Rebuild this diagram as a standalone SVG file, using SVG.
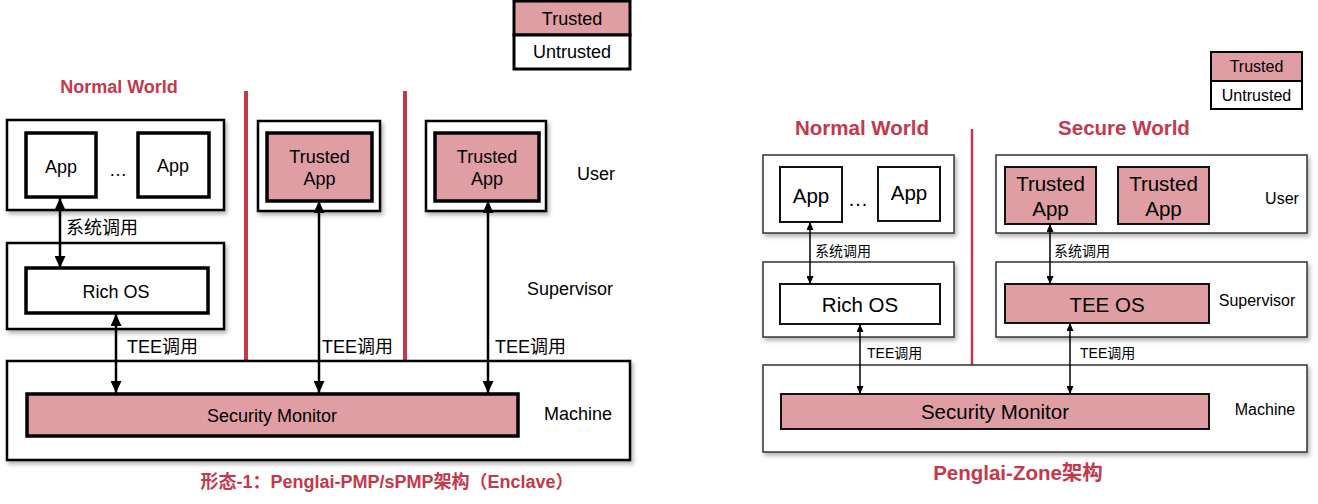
<svg xmlns="http://www.w3.org/2000/svg" width="1318" height="504" viewBox="0 0 1318 504">
<style>
text{font-family:"Liberation Sans",Arial,"Noto Sans CJK SC",sans-serif;fill:#000}
.l{font-size:18px}
.r{font-size:20.5px}
.s{font-size:16px}
.xs{font-size:14px}
.m{text-anchor:middle}
.red{fill:#C3394B;font-weight:bold}
.ob{fill:#fff;stroke:#000;stroke-width:2.5}
.ib{fill:#fff;stroke:#000;stroke-width:3.5}
.ip{fill:#DF9DA4;stroke:#000;stroke-width:3.5}
.rob{fill:#fff;stroke:#333;stroke-width:1.5}
.rib{fill:#fff;stroke:#111;stroke-width:2}
.rip{fill:#DF9DA4;stroke:#111;stroke-width:2}
.sep{stroke:#C3394B}
.ca{stroke:#000;stroke-width:2.5;fill:none}
.cr{stroke:#000;stroke-width:1.5;fill:none}
</style>
<defs>
<filter id="sh" x="-10%" y="-10%" width="130%" height="130%">
<feDropShadow dx="2" dy="3" stdDeviation="2" flood-color="#000" flood-opacity="0.3"/>
</filter>
<marker id="ah" markerUnits="userSpaceOnUse" markerWidth="12" markerHeight="11" refX="12" refY="5.5" orient="auto-start-reverse">
<path d="M0,0 L12,5.5 L0,11 z" fill="#000"/>
</marker>
<marker id="ahs" markerUnits="userSpaceOnUse" markerWidth="8" markerHeight="7" refX="8" refY="3.5" orient="auto-start-reverse">
<path d="M0,0 L8,3.5 L0,7 z" fill="#000"/>
</marker>
</defs>
<rect width="1318" height="504" fill="#fff"/>

<!-- ============ LEFT DIAGRAM ============ -->
<g id="legend-left">
<rect x="514" y="1" width="116" height="34" fill="#DF9DA4" stroke="#000" stroke-width="3"/>
<rect x="514" y="35" width="116" height="34" fill="#fff" stroke="#000" stroke-width="3"/>
<text class="l m" x="572" y="25">Trusted</text>
<text class="l m" x="572" y="58">Untrusted</text>
</g>
<text class="l m red" x="119" y="93">Normal World</text>
<g id="separators-left">
<line class="sep" x1="246" y1="91" x2="246" y2="362" stroke-width="4"/>
<line class="sep" x1="405" y1="91" x2="405" y2="362" stroke-width="4"/>
</g>

<g id="normal-user-left">
<rect class="ob" x="7" y="120" width="217" height="90" filter="url(#sh)"/>
</g>
<g id="app1-left">
<rect class="ib" x="26" y="133" width="70" height="64"/>
<text class="l m" x="61" y="173">App</text>
</g>
<text class="l m" x="118" y="176">…</text>
<g id="app2-left">
<rect class="ib" x="138" y="133" width="71" height="64"/>
<text class="l m" x="173" y="172">App</text>
</g>

<g id="enclave1-user-left">
<rect class="ob" x="258" y="121" width="122" height="90" filter="url(#sh)"/>
</g>
<g id="ta1-left">
<rect class="ip" x="267" y="133" width="105" height="68"/>
<text class="l m" x="319.5" y="163">Trusted</text>
<text class="l m" x="319.5" y="185">App</text>
</g>
<g id="enclave2-user-left">
<rect class="ob" x="426" y="121" width="120" height="90" filter="url(#sh)"/>
</g>
<g id="ta2-left">
<rect class="ip" x="435" y="133" width="104" height="68"/>
<text class="l m" x="487" y="163">Trusted</text>
<text class="l m" x="487" y="185">App</text>
</g>
<text class="l m" x="596" y="180">User</text>

<g id="normal-supervisor-left">
<rect class="ob" x="7" y="243" width="217" height="86" filter="url(#sh)"/>
</g>
<g id="richos-left">
<rect class="ib" x="26" y="268" width="182" height="45"/>
<text class="l m" x="116" y="298">Rich OS</text>
</g>
<text class="l m" x="570" y="295">Supervisor</text>

<g id="machine-left">
<rect class="ob" x="7" y="361" width="623" height="99" filter="url(#sh)"/>
</g>
<g id="sm-left">
<rect class="ip" x="27" y="394" width="491" height="42"/>
<text class="l m" x="272" y="422">Security Monitor</text>
</g>
<text class="l m" x="578" y="420">Machine</text>

<g id="connectors-left">
<line class="ca" x1="60" y1="198" x2="60" y2="268" marker-start="url(#ah)" marker-end="url(#ah)"/>
<line class="ca" x1="116" y1="314" x2="116" y2="393" marker-start="url(#ah)" marker-end="url(#ah)"/>
<line class="ca" x1="319" y1="201" x2="319" y2="393" marker-start="url(#ah)" marker-end="url(#ah)"/>
<line class="ca" x1="488" y1="201" x2="488" y2="393" marker-start="url(#ah)" marker-end="url(#ah)"/>
<text class="l" x="66" y="234">系统调用</text>
<text class="l" x="127" y="353">TEE调用</text>
<text class="l" x="322" y="353">TEE调用</text>
<text class="l" x="495" y="353">TEE调用</text>
</g>
<text class="l m red" x="387" y="488">形态-1：Penglai-PMP/sPMP架构（Enclave）</text>

<!-- ============ RIGHT DIAGRAM ============ -->
<g id="legend-right">
<rect x="1211" y="52" width="91" height="29" fill="#DF9DA4" stroke="#000" stroke-width="2"/>
<rect x="1211" y="81" width="91" height="28" fill="#fff" stroke="#000" stroke-width="2"/>
<text class="s m" x="1256.5" y="72">Trusted</text>
<text class="s m" x="1256.5" y="101">Untrusted</text>
</g>
<text class="r m red" x="862" y="135">Normal World</text>
<text class="r m red" x="1124" y="135">Secure World</text>
<g id="separator-right">
<line class="sep" x1="972" y1="129" x2="972" y2="365" stroke-width="2.5"/>
</g>

<g id="normal-user-right">
<rect class="rob" x="763" y="155" width="191" height="78" filter="url(#sh)"/>
</g>
<g id="app1-right">
<rect class="rib" x="780" y="167" width="62" height="55"/>
<text class="r m" x="811" y="203">App</text>
</g>
<text class="r m" x="858" y="206">…</text>
<g id="app2-right">
<rect class="rib" x="878" y="167" width="62" height="54"/>
<text class="r m" x="909" y="200">App</text>
</g>

<g id="secure-user-right">
<rect class="rob" x="996" y="155" width="311" height="78" filter="url(#sh)"/>
</g>
<g id="ta1-right">
<rect class="rip" x="1005" y="167" width="91" height="57"/>
<text class="r m" x="1050.5" y="191">Trusted</text>
<text class="r m" x="1050.5" y="216">App</text>
</g>
<g id="ta2-right">
<rect class="rip" x="1118" y="167" width="91" height="57"/>
<text class="r m" x="1163.5" y="191">Trusted</text>
<text class="r m" x="1163.5" y="216">App</text>
</g>
<text class="s m" x="1282" y="204">User</text>

<g id="normal-supervisor-right">
<rect class="rob" x="763" y="262" width="191" height="75" filter="url(#sh)"/>
</g>
<g id="richos-right">
<rect class="rib" x="780" y="284" width="160" height="40"/>
<text class="r m" x="860" y="312">Rich OS</text>
</g>
<g id="secure-supervisor-right">
<rect class="rob" x="996" y="262" width="311" height="75" filter="url(#sh)"/>
</g>
<g id="teeos-right">
<rect class="rip" x="1005" y="284" width="204" height="39"/>
<text class="r m" x="1107" y="312">TEE OS</text>
</g>
<text class="s m" x="1257" y="306">Supervisor</text>

<g id="machine-right">
<rect class="rob" x="763" y="365" width="544" height="87" filter="url(#sh)"/>
</g>
<g id="sm-right">
<rect class="rip" x="781" y="394" width="428" height="35"/>
<text class="r m" x="995" y="419">Security Monitor</text>
</g>
<text class="s m" x="1265" y="415">Machine</text>

<g id="connectors-right">
<line class="cr" x1="810" y1="222" x2="810" y2="284" marker-start="url(#ahs)" marker-end="url(#ahs)"/>
<line class="cr" x1="1050" y1="224" x2="1050" y2="284" marker-start="url(#ahs)" marker-end="url(#ahs)"/>
<line class="cr" x1="860" y1="324" x2="860" y2="394" marker-start="url(#ahs)" marker-end="url(#ahs)"/>
<line class="cr" x1="1070" y1="323" x2="1070" y2="394" marker-start="url(#ahs)" marker-end="url(#ahs)"/>
<text class="xs" x="815" y="256">系统调用</text>
<text class="xs" x="1054" y="256">系统调用</text>
<text class="xs" x="867" y="358">TEE调用</text>
<text class="xs" x="1080" y="358">TEE调用</text>
</g>
<text class="r m red" x="1018" y="480">Penglai-Zone架构</text>
</svg>
